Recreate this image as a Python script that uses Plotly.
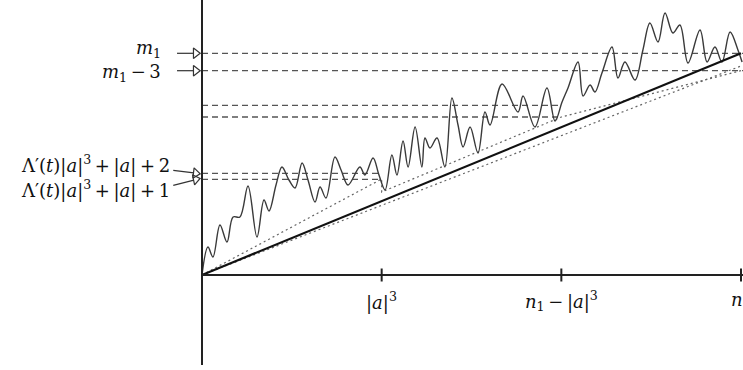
import plotly.graph_objects as go

# ---- data (abstract units: |a|^3 = 1, n1 = 3) ----
TS = "\u2009"  # thin space for operator spacing
tick_x = [1, 2, 3]
tick_labels = ["|<i>a</i>|<sup>3</sup>",
               "<i>n</i><sub>1</sub>" + TS + "−" + TS + "|<i>a</i>|<sup>3</sup>",
               "<i>n</i><sub>1</sub>"]

level_names = ["m1", "m1-3", "mid_hi", "mid_lo", "lam2", "lam1"]
level_y = [22.17, 20.43, 16.97, 15.8, 10.17, 9.57]
level_xend = [3.011, 3.011, 2.0, 2.0, 1.0, 1.0]

level_labels = ["<i>m</i><sub>1</sub>",
                "<i>m</i><sub>1</sub>" + TS + "−" + TS + "3",
                "Λ′(<i>t</i>)|<i>a</i>|<sup>3</sup>" + TS + "+" + TS + "|<i>a</i>|" + TS + "+" + TS + "2",
                "Λ′(<i>t</i>)|<i>a</i>|<sup>3</sup>" + TS + "+" + TS + "|<i>a</i>|" + TS + "+" + TS + "1"]
label_levels = [22.17, 20.43, 10.17, 9.57]

walk_x = [0, 0.033, 0.061, 0.100, 0.139, 0.173, 0.211, 0.256, 0.306, 0.345, 0.373, 0.412,
          0.445, 0.484, 0.518, 0.557, 0.590, 0.629, 0.657, 0.690, 0.740, 0.774, 0.813,
          0.879, 0.907, 0.952, 0.985, 1.019, 1.057, 1.085, 1.119, 1.147, 1.186, 1.224,
          1.241, 1.269, 1.308, 1.352, 1.391, 1.425, 1.453, 1.492, 1.536, 1.575, 1.603,
          1.670, 1.759, 1.787, 1.853, 1.920, 1.965, 2.004, 2.037, 2.093, 2.121, 2.160,
          2.187, 2.226, 2.282, 2.315, 2.354, 2.410, 2.454, 2.493, 2.538, 2.577, 2.621,
          2.660, 2.705, 2.772, 2.811, 2.855, 2.894, 2.939, 2.983, 3.006]
walk_y = [0, 2.8, 1.8, 5.0, 3.3, 5.8, 5.8, 8.9, 3.8, 7.5, 6.4, 9.0,
          10.8, 9.5, 8.7, 11.2, 9.5, 7.3, 8.8, 7.7, 11.8, 10.5, 9.0,
          10.8, 10.0, 11.7, 10.0, 8.5, 12.0, 10.0, 13.4, 10.8, 14.8, 10.8,
          13.7, 12.7, 13.7, 10.8, 17.7, 15.0, 12.8, 14.8, 12.2, 16.3, 15.0,
          19.1, 16.3, 17.9, 14.8, 18.7, 15.4, 17.3, 18.7, 21.3, 17.9, 19.0,
          18.3, 20.2, 22.8, 19.7, 21.3, 19.5, 22.5, 25.2, 23.3, 26.2, 24.2,
          25.0, 21.2, 24.5, 21.3, 22.8, 21.3, 24.3, 22.5, 21.3]

main_x = [0, 3]
main_y = [0, 22.17]

dot1_x = [0, 1, 1, 2, 3]
dot1_y = [0, 9.6, 8.3, 15.8, 20.43]
dot2_x = [0, 3]
dot2_y = [0, 20.9]

fig = go.Figure()

DASH_C = "#555555"
DOT_C = "#666666"

for y, xe in zip(level_y, level_xend):
    fig.add_trace(go.Scatter(x=[0, xe], y=[y, y], mode="lines",
                             line=dict(color=DASH_C, width=1.3, dash="6px,4px"),
                             hoverinfo="skip", showlegend=False))

fig.add_trace(go.Scatter(x=dot1_x, y=dot1_y, mode="lines",
                         line=dict(color=DOT_C, width=1.2, dash="2px,3px"),
                         hoverinfo="skip", showlegend=False))
fig.add_trace(go.Scatter(x=dot2_x, y=dot2_y, mode="lines",
                         line=dict(color=DOT_C, width=1.2, dash="2px,3px"),
                         hoverinfo="skip", showlegend=False))

fig.add_trace(go.Scatter(x=walk_x, y=walk_y, mode="lines",
                         line=dict(color="#3a3a3a", width=1.4, shape="spline", smoothing=1.0),
                         hoverinfo="skip", showlegend=False))

fig.add_trace(go.Scatter(x=main_x, y=main_y, mode="lines",
                         line=dict(color="#111111", width=2.2),
                         hoverinfo="skip", showlegend=False))

# axes
fig.add_shape(type="line", x0=0, x1=0, y0=-9.0, y1=27.5, line=dict(color="#222222", width=2))
fig.add_shape(type="line", x0=0, x1=3.011, y0=0, y1=0, line=dict(color="#222222", width=2))
for tx in tick_x:
    fig.add_shape(type="line", x0=tx, x1=tx, y0=-0.65, y1=0.65, line=dict(color="#222222", width=2))

FONT = dict(family="DejaVu Serif", size=18, color="#111111")
for tx, tl in zip(tick_x, tick_labels):
    fig.add_annotation(x=tx, y=-2.6, text=tl, showarrow=False, xanchor="center",
                       yanchor="middle", font=FONT)

# left labels + arrows
label_x = [-0.217, -0.217, -0.167, -0.167]
label_dy = [0.45, -0.2, 0.9, -1.0]
arrow_dy = [0, 0, 0.3, -0.6]
for lbl, lv, lx, ldy, ady in zip(level_labels, label_levels, label_x, label_dy, arrow_dy):
    fig.add_annotation(x=lx, y=lv + ldy, text=lbl, showarrow=False, xanchor="right",
                       yanchor="middle", font=FONT)
    xs = [-0.160 if ady else -0.139, -0.045]
    ys = [lv + ady, lv + ady * 0.15]
    fig.add_trace(go.Scatter(x=xs, y=ys, mode="lines", line=dict(color="#333333", width=1.2),
                             hoverinfo="skip", showlegend=False))
    ang = 0 if ady == 0 else (7 if ady > 0 else -12)
    fig.add_trace(go.Scatter(x=[-0.035], y=[lv], mode="markers",
                             marker=dict(symbol="triangle-right-open", size=9, angle=ang,
                                         color="#333333", line=dict(width=1.2, color="#333333")),
                             hoverinfo="skip", showlegend=False))

fig.update_layout(
    width=743, height=370,
    margin=dict(l=0, r=0, t=0, b=0),
    paper_bgcolor="white", plot_bgcolor="white",
    xaxis=dict(visible=False, range=[-1.1243, 3.0111]),
    yaxis=dict(visible=False, range=[-9.5, 27.5]),
    showlegend=False,
)

fig.write_html("out.html", config={"displayModeBar": False, "staticPlot": True},
               post_script="document.body.style.margin='0';document.body.style.overflow='hidden';")
